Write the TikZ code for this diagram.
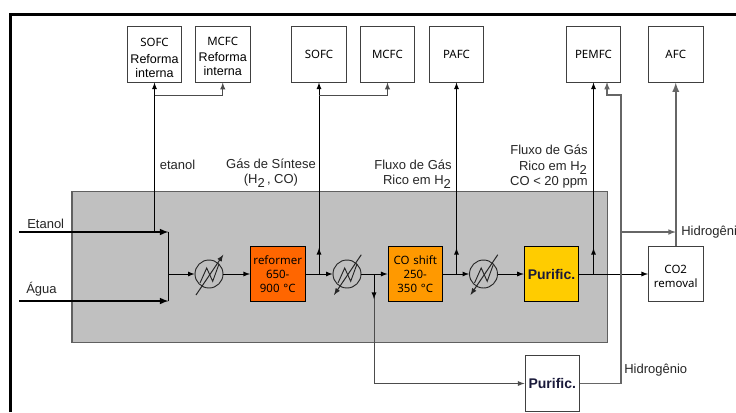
\documentclass[tikz,border=0pt]{standalone}
\usepackage{fontspec}
\setmainfont{Liberation Sans}
\newfontfamily\boxfont{Noto Sans}
\usetikzlibrary{arrows,calc,positioning}
\definecolor{cinzafundo}{HTML}{C0C0C0}
\definecolor{cinzalinha}{HTML}{606060}
\definecolor{reformcor}{HTML}{FF6600}
\definecolor{shiftcor}{HTML}{FF9900}
\definecolor{purifcor}{HTML}{FFCC00}
\definecolor{purtexto}{HTML}{1A1A3A}
\tikzset{
  >=latex,
  celula/.style={rectangle,draw=black!75,line width=0.6pt,fill=white,minimum width=41pt,minimum height=41.5pt,
                 inner sep=0pt,text width=41pt,align=center,font=\boxfont\fontsize{8.6}{10.5}\selectfont},
  reator/.style={celula,draw=black},
  purific/.style={font=\rmfamily\bfseries\fontsize{10.5}{12}\selectfont,text=purtexto},
  troca/.style={circle,draw=black!85,line width=0.7pt,minimum size=21pt,inner sep=0pt},
  linha/.style={draw=black,line width=0.7pt,->},
  tronco/.style={draw=black,line width=1.2pt,->},
  ramal/.style={draw=black!70,line width=0.75pt,->},
  hidro/.style={draw=black!60,line width=0.9pt,->},
  rotulo/.style={font=\fontsize{9.75}{11.6}\selectfont,text=black!85,inner sep=0pt,align=center}
}
\newcommand{\hdois}{H\raisebox{-3pt}{2}}
\newcommand{\reforma}{{\rmfamily\fontsize{9.4}{12}\selectfont Reforma\\interna}}
% Zigzag and slanted arrow of one heat exchanger.
\newcommand{\trocador}[2]{
  \draw[black!85,line width=0.7pt] ($(#1)+(-9,9)$) -- ($(#1)+(-2.3,-6)$) -- ($(#1)+(3.7,7.3)$) -- ($(#1)+(10,-10)$);
  \draw[#2,black!85,line width=0.75pt] ($(#1)+(-13,21)$) -- ($(#1)+(14.3,-19.3)$);
}
\begin{document}
\begin{tikzpicture}[x=0.75pt,y=-0.75pt]
  \useasboundingbox (0,0) rectangle (736,412);
  \fill[white] (0,0) rectangle (736,412);

  % Draw outer frame.
  \draw[line width=2.2pt] (10.5,412) -- (10.5,14.5) -- (736,14.5);

  % Draw gray plant area.
  \draw[fill=cinzafundo,draw=cinzalinha,line width=0.8pt] (72,191.5) rectangle (607.5,342.5);

  % Fuel cells along the top.
  \node[celula] (sofcri) at (154.5,54.5) {\rule{0pt}{11pt}SOFC\\[0.5pt]\reforma};
  \node[celula] (mcfcri) at (222.75,54.5) {\rule{0pt}{9pt}MCFC\\[-0.5pt]\reforma};
  \node[celula] (sofc) at (319,54.5) {SOFC};
  \node[celula] (mcfc) at (387.5,54.5) {MCFC};
  \node[celula] (pafc) at (456.5,54.5) {PAFC};
  \node[celula] (pemfc) at (593.5,54.5) {PEMFC};
  \node[celula] (afc) at (675.75,54.5) {AFC};

  % Process line.
  \node[reator,fill=reformcor] (reformer) at (277.75,274) {reformer\\650-\\900 °C};
  \node[reator,fill=shiftcor] (shift) at (415.25,274) {CO shift\\250-\\350 °C};
  \node[reator,fill=purifcor,purific] (purif) at (551.5,274) {Purific.};
  \node[celula,purific] (purifb) at (552.25,383.5) {Purific.};
  \node[celula] (remocao) at (675.75,274) {\rule{0pt}{9.5pt}CO2\\removal};
  \node[troca] (tc1) at (209,274) {};
  \node[troca] (tc2) at (347,274) {};
  \node[troca] (tc3) at (483.5,274) {};
  \trocador{tc1}{->}
  \trocador{tc2}{<-}
  \trocador{tc3}{<-}

  % Junctions.
  \coordinate (entrada) at (168.5,274);
  \coordinate (etanolini) at (19,232);
  \coordinate (aguaini) at (19,301);
  \coordinate (etanolfim) at (168.5,232);
  \coordinate (aguafim) at (168.5,301);
  \coordinate (etanolno) at (154.5,232);
  \coordinate (saidaref) at (319,274);
  \coordinate (saidashift) at (456.5,274);
  \coordinate (saidapur) at (593.5,274);
  \coordinate (desvio) at (374,274);
  \coordinate (ramo) at (621,232);

  % Feeds.
  \draw[tronco] (etanolini) -- (etanolfim);
  \draw[tronco] (aguaini) -- (aguafim);
  \draw[line width=0.7pt] (etanolfim) -- (aguafim);
  \draw[linha] (entrada) -- (tc1);
  \draw[linha] (tc1) -- (reformer);
  \draw[linha] (reformer) -- (tc2);
  \draw[linha] (tc2) -- (shift);
  \draw[linha] (shift) -- (tc3);
  \draw[linha] (tc3) -- (purif);
  \draw[linha] (purif) -- (remocao);

  % Branches up to the cells.
  \draw[linha] (etanolno) -- (sofcri);
  \draw[ramal] (154.5,95) -| (mcfcri);
  \draw[linha] (saidaref) -- (sofc);
  \draw[linha] (saidaref) -- (319,248);
  \draw[ramal] (319,95) -| (mcfc);
  \draw[linha] (saidashift) -- (pafc);
  \draw[linha] (saidashift) -- (456.5,248);
  \draw[linha] (saidapur) -- (pemfc);
  \draw[linha] (saidapur) -- (593.5,248);

  % Bypass through the second purifier.
  \draw[ramal] (desvio) |- (purifb);
  \draw[linha] (desvio) -- (374,299);
  \draw[hidro] (purifb) -| (ramo) -- (621,95) -| (607,82);
  \draw[hidro] (ramo) -- (675.75,232);
  \draw[hidro,line width=1.4pt] (remocao) -- (afc);

  % Labels.
  \node[rotulo] (etanol) at (177.5,165) {etanol};
  \node[rotulo] at (271,173) {Gás de Síntese\\(\hdois\,, CO)};
  \node[rotulo] at (413,174) {Fluxo de Gás\\\hspace{6pt}Rico em \hdois};
  \node[rotulo] at (549,167) {Fluxo de Gás\\\hspace{6pt}Rico em \hdois\\CO < 20 ppm};
  \node[rotulo,anchor=west] (etanolr) at (27,224) {Etanol};
  \node[rotulo,anchor=west] (aguar) at (26,289.5) {Água};
  \node[rotulo,anchor=west] (hidrob) at (624,370) {Hidrogênio};
  \node[rotulo,anchor=west] (hidroa) at (681,232) {Hidrogênio};
\end{tikzpicture}
\end{document}
